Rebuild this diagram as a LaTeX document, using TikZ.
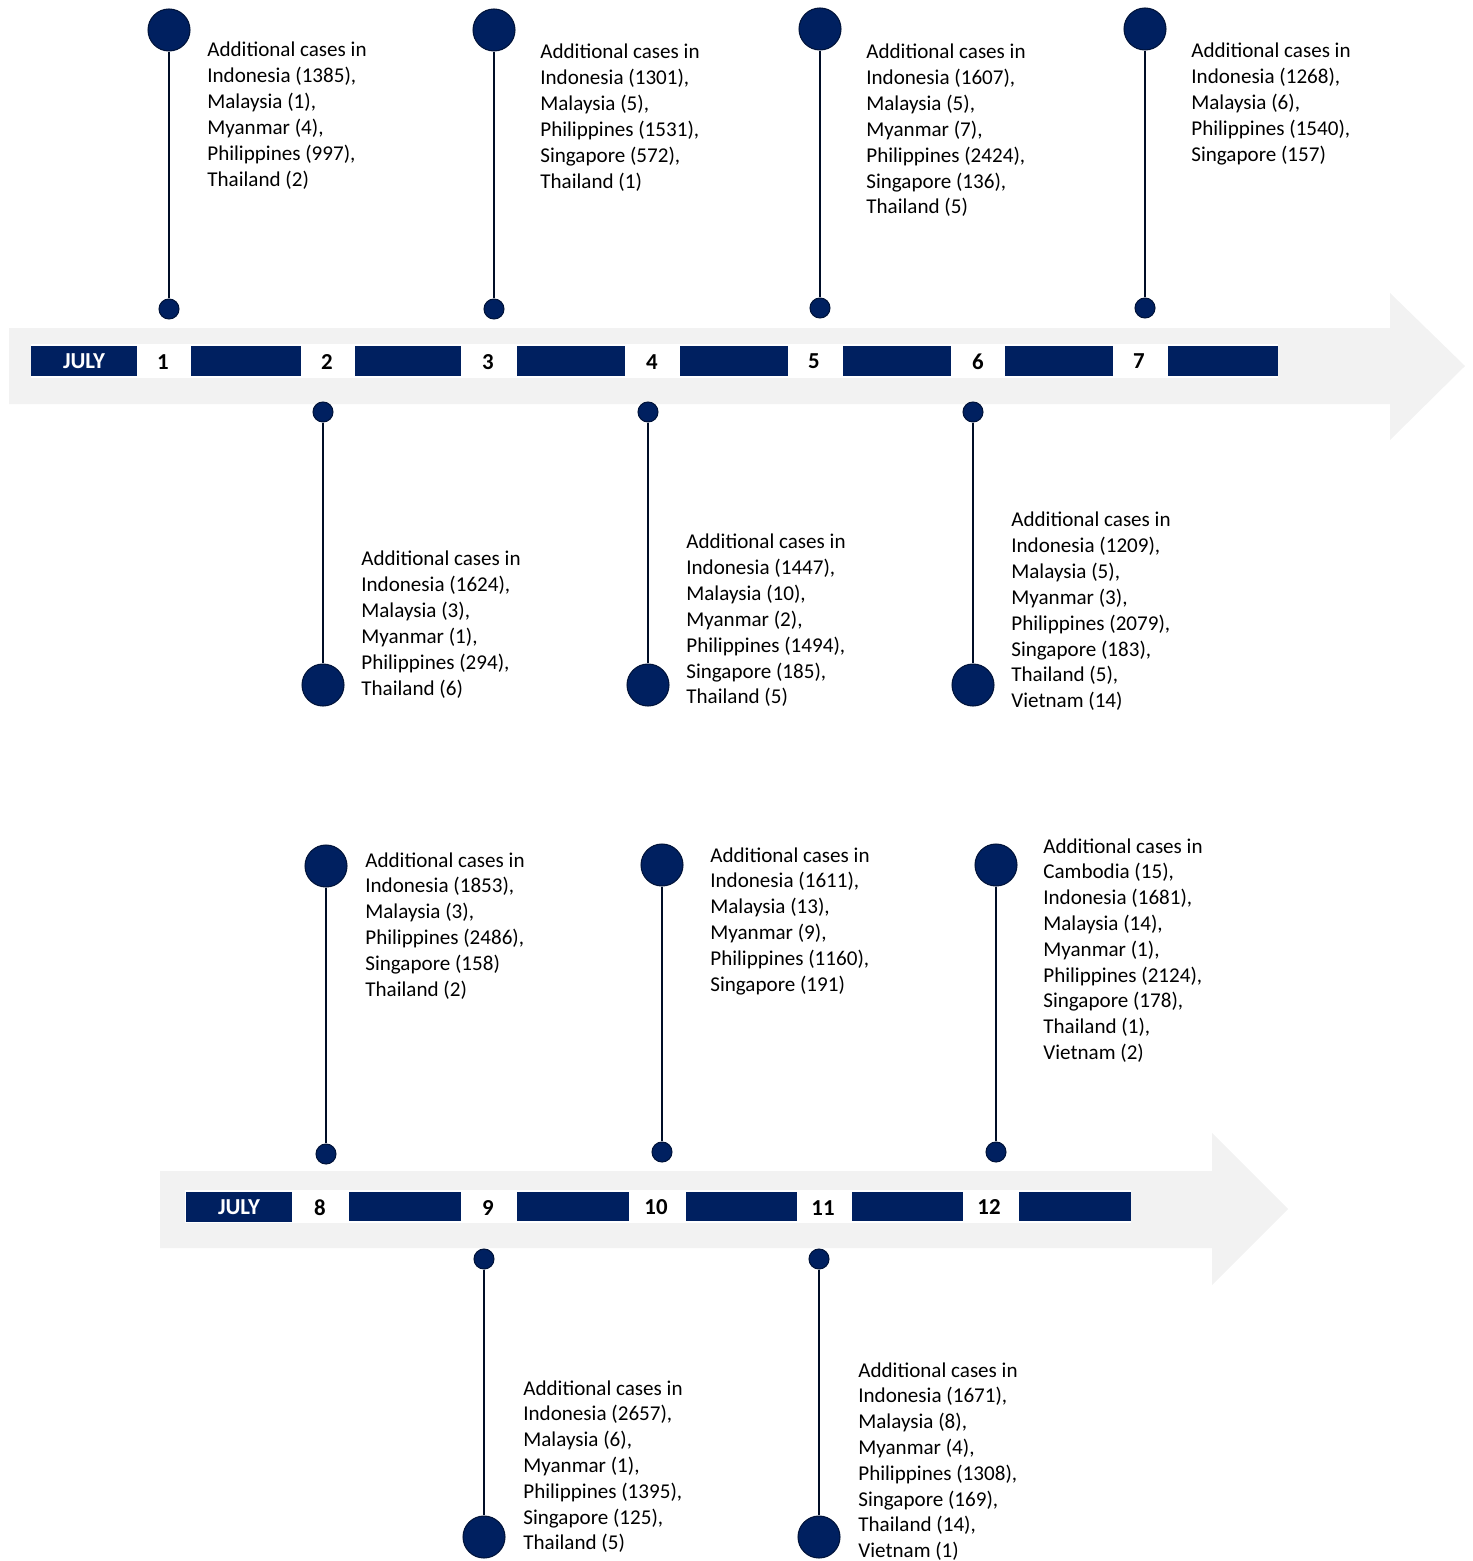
\documentclass[tikz,border=0pt]{standalone}
\usepackage{fontspec}
\setmainfont{Carlito}
\usetikzlibrary{positioning}
\definecolor{navyink}{RGB}{0,32,96}
\definecolor{bandgray}{RGB}{242,242,242}

\begin{document}
\begin{tikzpicture}[x=0.02cm, y=-0.02cm,
    bigdot/.style={circle, fill=navyink, draw=navyink!60!black, line width=0.6pt, minimum size=0.84cm, inner sep=0pt},
    smalldot/.style={circle, fill=navyink, draw=navyink!60!black, line width=0.6pt, minimum size=0.4cm, inner sep=0pt},
    stem/.style={draw=navyink!40!black, line width=1.2pt},
    casetext/.style={anchor=north west, align=left, inner sep=0pt, font=\fontsize{12}{14.7}\selectfont},
    monthbox/.style={fill=navyink, text=white, font=\bfseries\fontsize{13}{15}\selectfont, minimum width=2.14cm, minimum height=0.6cm, inner sep=0pt},
    daynum/.style={font=\bfseries\fontsize{13}{15}\selectfont, inner sep=0pt}
]
    \useasboundingbox (0,0) rectangle (1472,1561);

    % Gray arrows
    \fill[bandgray] (9,328) -- (1390,328) -- (1390,293) -- (1465,366) -- (1390,440) -- (1390,404) -- (9,404) -- cycle;
    \fill[bandgray] (160,1171) -- (1212,1171) -- (1212,1133) -- (1288,1209) -- (1212,1285) -- (1212,1248) -- (160,1248) -- cycle;

    % Day strips
    \fill[white] (31,344) rectangle (1278,378);
    \fill[white] (185,1190) rectangle (1131,1223);
    \node[monthbox] (july1) at (84,361) {JULY};
    \node[monthbox] (july2) at (239,1207) {JULY};
    \foreach \xa/\xb/\ya/\yb in {191/301/346/376, 355/461/346/376, 517/625/346/376, 680/788/346/376,
        843/951/346/376, 1005/1113/346/376, 1168/1278/346/376,
        349/461/1192/1221, 517/629/1192/1221, 686/797/1192/1221, 852/963/1192/1221, 1019/1131/1192/1221} {
        \fill[navyink] (\xa,\ya) rectangle (\xb,\yb);
    }
    \foreach \d/\x/\y in {1/163/362, 2/327/362, 3/488/362, 4/652/362, 5/814/361, 6/978/362, 7/1139/361,
        8/320/1208, 9/488/1208, 10/656/1207, 11/823/1208, 12/989/1207} {
        \node[daynum] (day\d) at (\x,\y) {\d};
    }

    % Pins above the strips
    \foreach \n/\x/\by/\sy/\tx/\ty/\txt in {
        1/169/30/309/207/42/{Additional cases in\\Indonesia (1385),\\Malaysia (1),\\Myanmar (4),\\Philippines (997),\\Thailand (2)},
        3/494/30/309/540/44/{Additional cases in\\Indonesia (1301),\\Malaysia (5),\\Philippines (1531),\\Singapore (572),\\Thailand (1)},
        5/820/29/308/866/44/{Additional cases in\\Indonesia (1607),\\Malaysia (5),\\Myanmar (7),\\Philippines (2424),\\Singapore (136),\\Thailand (5)},
        7/1145/29/308/1191/43/{Additional cases in\\Indonesia (1268),\\Malaysia (6),\\Philippines (1540),\\Singapore (157)},
        8/326/866/1154/365/852/{Additional cases in\\Indonesia (1853),\\Malaysia (3),\\Philippines (2486),\\Singapore (158)\\Thailand (2)},
        10/662/865/1152/710/847/{Additional cases in\\Indonesia (1611),\\Malaysia (13),\\Myanmar (9),\\Philippines (1160),\\Singapore (191)},
        12/996/865/1152/1043/838/{Additional cases in\\Cambodia (15),\\Indonesia (1681),\\Malaysia (14),\\Myanmar (1),\\Philippines (2124),\\Singapore (178),\\Thailand (1),\\Vietnam (2)}%
    } {
        \node[bigdot] (big\n) at (\x,\by) {};
        \node[smalldot] (small\n) at (\x,\sy) {};
        \draw[stem] (big\n) -- (small\n);
        \node[casetext] (cases\n) at (\tx,\ty) {\txt};
    }

    % Pins below the strips
    \foreach \n/\x/\sy/\by/\tx/\ty/\txt in {
        2/323/412/685/361/551/{Additional cases in\\Indonesia (1624),\\Malaysia (3),\\Myanmar (1),\\Philippines (294),\\Thailand (6)},
        4/648/412/685/686/534/{Additional cases in\\Indonesia (1447),\\Malaysia (10),\\Myanmar (2),\\Philippines (1494),\\Singapore (185),\\Thailand (5)},
        6/973/412/685/1011/512/{Additional cases in\\Indonesia (1209),\\Malaysia (5),\\Myanmar (3),\\Philippines (2079),\\Singapore (183),\\Thailand (5),\\Vietnam (14)},
        9/484/1259/1537/523/1380/{Additional cases in\\Indonesia (2657),\\Malaysia (6),\\Myanmar (1),\\Philippines (1395),\\Singapore (125),\\Thailand (5)},
        11/819/1259/1537/858/1362/{Additional cases in\\Indonesia (1671),\\Malaysia (8),\\Myanmar (4),\\Philippines (1308),\\Singapore (169),\\Thailand (14),\\Vietnam (1)}%
    } {
        \node[smalldot] (small\n) at (\x,\sy) {};
        \node[bigdot] (big\n) at (\x,\by) {};
        \draw[stem] (small\n) -- (big\n);
        \node[casetext] (cases\n) at (\tx,\ty) {\txt};
    }
\end{tikzpicture}
\end{document}
